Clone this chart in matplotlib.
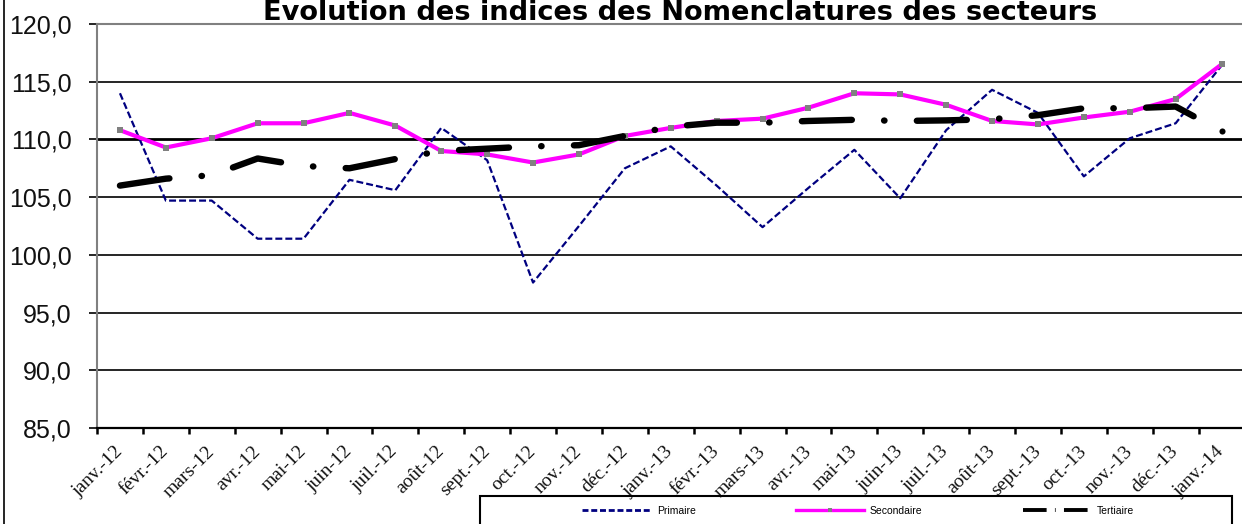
import matplotlib
matplotlib.use("Agg")
import matplotlib.pyplot as plt
from matplotlib.lines import Line2D
from matplotlib.patches import Rectangle
from matplotlib.ticker import FuncFormatter, FixedLocator
import numpy as np

plt.rcParams['lines.scale_dashes'] = False

months = ["janv.-12", "févr.-12", "mars-12", "avr.-12", "mai-12", "juin-12", "juil.-12",
          "août-12", "sept.-12", "oct.-12", "nov.-12", "déc.-12", "janv.-13", "févr.-13",
          "mars-13", "avr.-13", "mai-13", "juin-13", "juil.-13", "août-13", "sept.-13",
          "oct.-13", "nov.-13", "déc.-13", "janv.-14"]

primaire = [114.0, 104.7, 104.7, 101.4, 101.4, 106.5, 105.6, 111.0, 108.2, 97.6, 102.5,
            107.5, 109.4, 106.0, 102.4, 105.8, 109.1, 104.9, 110.8, 114.3, 112.3, 106.8,
            110.1, 111.4, 116.4]
secondaire = [110.8, 109.3, 110.1, 111.4, 111.4, 112.3, 111.2, 109.0, 108.7, 108.0, 108.7,
              110.3, 111.0, 111.6, 111.8, 112.75, 114.0, 113.9, 113.0, 111.6, 111.3, 111.9,
              112.4, 113.5, 116.5]
tertiaire = [106.0, 106.6, 106.9, 108.35, 107.7, 107.5, 108.3, 109.0, 109.2, 109.4, 109.5,
             110.3, 111.1, 111.45, 111.45, 111.6, 111.7, 111.6, 111.65, 111.75, 112.1, 112.7,
             112.7, 112.85, 110.7]

series_names = ["Primaire", "Secondaire", "Tertiaire"]
title = "Evolution des indices des Nomenclatures des secteurs"
yticks = [85, 90, 95, 100, 105, 110, 115, 120]

W, H = 1242, 524
fig = plt.figure(figsize=(W / 100, H / 100), dpi=100)
ax_left, ax_right, ax_top, ax_bottom = 97, 1244.5, 24, 428
ax = fig.add_axes([ax_left / W, 1 - ax_bottom / H, (ax_right - ax_left) / W, (ax_bottom - ax_top) / H])

x = np.arange(len(months))

# gridlines
for yv in yticks[1:-1]:
    ax.axhline(yv, color="black", lw=2.0 if yv == 110 else 1.2, zorder=1)

ax.plot(x, primaire, color="#000080", lw=1.6, linestyle=(0, (5.0, 2.2)), zorder=2,
        dash_capstyle="butt")
ax.plot(x, secondaire, color="#FF00FF", lw=3.0, marker="s", markersize=4.6,
        markerfacecolor="#808080", markeredgecolor="#808080", markeredgewidth=0, zorder=3)
ax.plot(x, tertiaire, color="black", lw=4.6, linestyle=(0, (36, 23.2, 0.3, 23.3)),
        dash_capstyle="round", dash_joinstyle="round", zorder=4,
        marker="o", markevery=[len(tertiaire) - 1], markersize=4.4,
        markerfacecolor="black", markeredgewidth=0)

ax.set_xlim(-0.5, len(months) - 0.5)
ax.set_ylim(85, 120)

ax.yaxis.set_major_locator(FixedLocator(yticks))
ax.yaxis.set_major_formatter(FuncFormatter(lambda v, p: f"{v:.1f}".replace(".", ",")))
ax.tick_params(axis="y", which="major", direction="out", length=6, width=1.2, color="black",
               pad=12, labelsize=18, labelcolor="#111111")
for lab in ax.get_yticklabels():
    lab.set_fontfamily("Liberation Sans")

ax.set_xticks(x)
ax.set_xticks(np.arange(-0.5, len(months), 1.0), minor=True)
ax.set_xticklabels(months, rotation=45, ha="right", va="center", rotation_mode="anchor",
                   fontfamily="Liberation Serif", fontsize=14, color="#111111")
ax.tick_params(axis="x", which="major", length=0, pad=15)
ax.tick_params(axis="x", which="minor", direction="out", length=4, width=1.8, color="black")

for s in ["top", "left"]:
    ax.spines[s].set_color("#808080")
    ax.spines[s].set_linestyle((0, (3, 1.5)))
    ax.spines[s].set_linewidth(1.5)
ax.spines["right"].set_visible(False)
ax.spines["bottom"].set_color("black")
ax.spines["bottom"].set_linewidth(1.6)

fig.text(680 / W, 1 - 20 / H, title, ha="center", va="baseline", fontsize=19.6,
         fontweight="bold", fontfamily="DejaVu Sans", color="black")

# chart area left border
fig.add_artist(Line2D([4 / W, 4 / W], [0, 1], transform=fig.transFigure, color="black", lw=1.2))

# legend
handles = [
    Line2D([], [], color="#000080", lw=2.0, linestyle=(0, (4.3, 2.0))),
    Line2D([], [], color="#FF00FF", lw=2.4, marker="s", markersize=3.5,
           markerfacecolor="#808080", markeredgewidth=0),
    Line2D([], [], color="black", lw=2.8, linestyle=(0, (17, 6, 0.5, 6))),
]
leg = fig.legend(handles, series_names, ncol=3, frameon=False,
                 handlelength=6.6, handletextpad=0.55, columnspacing=9.6, borderpad=0,
                 loc="center left", bbox_to_anchor=(577 / W, 1 - 511 / H),
                 prop={"family": "Liberation Sans", "size": 7.5})
fig.add_artist(Rectangle((480 / W, -0.05), (1232 - 480) / W, 0.05 + 1 - 496 / H,
                         transform=fig.transFigure, fill=False, edgecolor="black", lw=1.5))

fig.savefig("out.png", dpi=100)
